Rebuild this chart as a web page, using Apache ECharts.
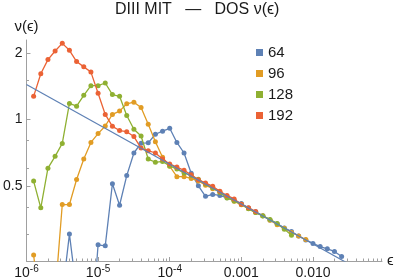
<!DOCTYPE html>
<html>
<head>
<meta charset="utf-8">
<script src="https://cdn.jsdelivr.net/npm/echarts@6/dist/echarts.min.js"></script>
<style>
html,body{margin:0;padding:0;background:#fff;}
#c{width:399px;height:280px;}
</style>
</head>
<body>
<div id="c"></div>
<script>
// energy grid (ϵ)
const eps = [
  1.259e-6, 1.585e-6, 1.995e-6, 2.512e-6, 3.162e-6, 3.981e-6, 5.012e-6, 6.310e-6, 7.943e-6, 1.000e-5,
  1.259e-5, 1.585e-5, 1.995e-5, 2.512e-5, 3.162e-5, 3.981e-5, 5.012e-5, 6.310e-5, 7.943e-5, 1.000e-4,
  1.259e-4, 1.585e-4, 1.995e-4, 2.512e-4, 3.162e-4, 3.981e-4, 5.012e-4, 6.310e-4, 7.943e-4, 1.000e-3,
  1.259e-3, 1.585e-3, 1.995e-3, 2.512e-3, 3.162e-3, 3.981e-3, 5.012e-3, 6.310e-3, 7.943e-3, 1.000e-2,
  1.259e-2, 1.585e-2, 1.995e-2, 2.512e-2
];
// DOS ν(ϵ) per system size (null = no point)
const nu64 = [
  null, null, null, null, 0.16, 0.302, 0.165, 0.12, 0.10, 0.270,
  0.267, 0.511, 0.408, 0.556, 0.704, 0.780, 0.783, 0.856, 0.884, 0.911,
  0.786, 0.704, 0.570, 0.500, 0.448, 0.457, 0.452, 0.441, 0.428, 0.415,
  0.396, 0.381, 0.366, 0.350, 0.336, 0.322, 0.310, 0.296, 0.284, 0.274,
  0.265, 0.259, 0.252, 0.239
];
const nu96 = [
  0.243, 0.126, 0.12, 0.159, 0.411, 0.411, 0.534, 0.661, 0.786, 0.862,
  0.933, 1.053, 1.090, 1.177, 1.196, 1.132, 0.950, 0.791, 0.673, 0.613,
  0.550, 0.550, 0.540, 0.526, 0.503, 0.485, 0.470, 0.446, 0.425, 0.410,
  0.394, 0.378, 0.366, 0.349, 0.333, 0.321, 0.307, 0.296, 0.285, null,
  null, null, null, null
];
const nu128 = [
  0.525, 0.397, 0.601, 0.680, 0.778, 1.181, 1.148, 1.286, 1.421, 1.421,
  1.462, 1.295, 1.272, 1.042, 0.902, 0.841, 0.661, 0.639, 0.645, 0.615,
  0.595, 0.572, 0.556, 0.535, 0.510, 0.490, 0.466, 0.440, 0.427, 0.412,
  0.393, 0.378, 0.365, 0.352, 0.337, 0.318, 0.298, null, null, null,
  null, null, null, null
];
const nu192 = [
  1.272, 1.610, 1.866, 2.042, 2.211, 2.056, 1.828, 1.730, 1.638, 1.313,
  1.053, 0.930, 0.890, 0.879, 0.836, 0.741, 0.721, 0.704, 0.661, 0.628,
  0.608, 0.588, 0.561, 0.532, 0.515, 0.497, 0.472, 0.452, 0.436, 0.412,
  0.398, 0.382, null, null, null, null, null, null, null, null,
  null, null, null, null
];
// power-law fit line endpoints
const fitEps = [1e-6, 0.03];
const fitNu = [1.44, 0.2234];

const seriesNames = ['64', '96', '128', '192'];
const seriesValues = [nu64, nu96, nu128, nu192];
const colors = ['#5E81B5', '#E19C24', '#8FB032', '#EB6235'];

const xMajor = [1e-6, 1e-5, 1e-4, 1e-3, 1e-2];
const xLabels = ['10^-6', '10^-5', '10^-4', '0.001', '0.010'];
const xMinor = [];
[1e-6, 1e-5, 1e-4, 1e-3, 1e-2].forEach(d => { for (let m = 2; m <= 9; m++) xMinor.push(m * d); });
const yMajor = [0.5, 1, 2];
const yLabels = ['0.5', '1', '2'];
const yMinor = [0.3, 0.4, 0.6, 0.8, 1.5];

const FONT = '"Liberation Sans", Arial, "DejaVu Sans", sans-serif';
const TXT = '#1a1a1a';
const AX = '#a0a0a0';

function findLabel(v, ticks, labels) {
  for (let i = 0; i < ticks.length; i++) {
    if (Math.abs(Math.log10(v) - Math.log10(ticks[i])) < 1e-6) return labels[i];
  }
  return '';
}
function xFmt(v) {
  const l = findLabel(v, xMajor, xLabels);
  if (l.indexOf('^') >= 0) {
    const p = l.split('^');
    return '{b|' + p[0] + '}{s|' + p[1] + '}';
  }
  return '{b|' + l + '}';
}

const chart = echarts.init(document.getElementById('c'), null, {renderer: 'canvas'});
const series = seriesNames.map((n, si) => ({
  name: n,
  type: 'line',
  xAxisIndex: 0, yAxisIndex: 0,
  data: eps.map((x, i) => [x, seriesValues[si][i]]).filter(d => d[1] != null),
  symbol: 'circle',
  symbolSize: 5,
  showSymbol: true,
  clip: true,
  lineStyle: {width: 1.3, color: colors[si]},
  itemStyle: {color: colors[si]},
  emphasis: {disabled: true},
  z: 2 + si
}));
series.push({
  name: 'fit',
  type: 'line',
  data: fitEps.map((x, i) => [x, fitNu[i]]),
  symbol: 'none',
  clip: true,
  lineStyle: {width: 1.2, color: '#5E81B5'},
  emphasis: {disabled: true},
  z: 10
});

chart.setOption({
  animation: false,
  backgroundColor: '#fff',
  textStyle: {fontFamily: FONT},
  title: {
    text: 'DIII MIT   —   DOS ν(ϵ)',
    left: 115, top: 2, padding: 0,
    textStyle: {fontSize: 16, fontWeight: 'normal', color: TXT, fontFamily: FONT}
  },
  legend: {
    data: seriesNames,
    orient: 'vertical',
    left: 256, top: 45,
    icon: 'rect',
    itemWidth: 7, itemHeight: 7, itemGap: 6,
    padding: 0,
    textStyle: {fontSize: 15, color: TXT, fontFamily: FONT, lineHeight: 15}
  },
  grid: {left: 22, right: 17, top: 40, bottom: 17, containLabel: false},
  xAxis: [{
    type: 'log', min: 1e-6, max: 0.092, position: 'bottom',
    name: 'ϵ', nameLocation: 'end', nameGap: 5,
    nameTextStyle: {fontSize: 15, color: TXT, fontFamily: FONT, verticalAlign: 'middle'},
    axisLine: {show: true, lineStyle: {color: AX, width: 1}},
    axisTick: {show: true, inside: true, length: 4, lineStyle: {color: AX}, customValues: xMajor},
    axisLabel: {
      show: true, margin: 3, customValues: xMajor, formatter: xFmt,
      rich: {
        b: {fontSize: 14, color: TXT, fontFamily: FONT, verticalAlign: 'bottom', lineHeight: 16},
        s: {fontSize: 10, color: TXT, fontFamily: FONT, verticalAlign: 'top', lineHeight: 10}
      }
    },
    splitLine: {show: false}
  }, {
    type: 'log', min: 1e-6, max: 0.092, position: 'bottom', gridIndex: 0,
    axisLine: {show: false},
    axisTick: {show: true, inside: true, length: 2.5, lineStyle: {color: AX}, customValues: xMinor},
    axisLabel: {show: false},
    splitLine: {show: false}
  }],
  yAxis: [{
    type: 'log', min: 0.228, max: 2.29, position: 'left',
    name: 'ν(ϵ)', nameLocation: 'end', nameGap: 6,
    nameTextStyle: {fontSize: 15, color: TXT, fontFamily: FONT},
    axisLine: {show: true, lineStyle: {color: AX, width: 1}},
    axisTick: {show: true, inside: true, length: 4, lineStyle: {color: AX}, customValues: yMajor},
    axisLabel: {
      show: true, margin: 4, customValues: yMajor, fontSize: 14, color: TXT, fontFamily: FONT,
      formatter: v => findLabel(v, yMajor, yLabels)
    },
    splitLine: {show: false}
  }, {
    type: 'log', min: 0.228, max: 2.29, position: 'left', gridIndex: 0,
    axisLine: {show: false},
    axisTick: {show: true, inside: true, length: 2.5, lineStyle: {color: AX}, customValues: yMinor},
    axisLabel: {show: false},
    splitLine: {show: false}
  }],
  series: series
});
</script>
</body>
</html>
